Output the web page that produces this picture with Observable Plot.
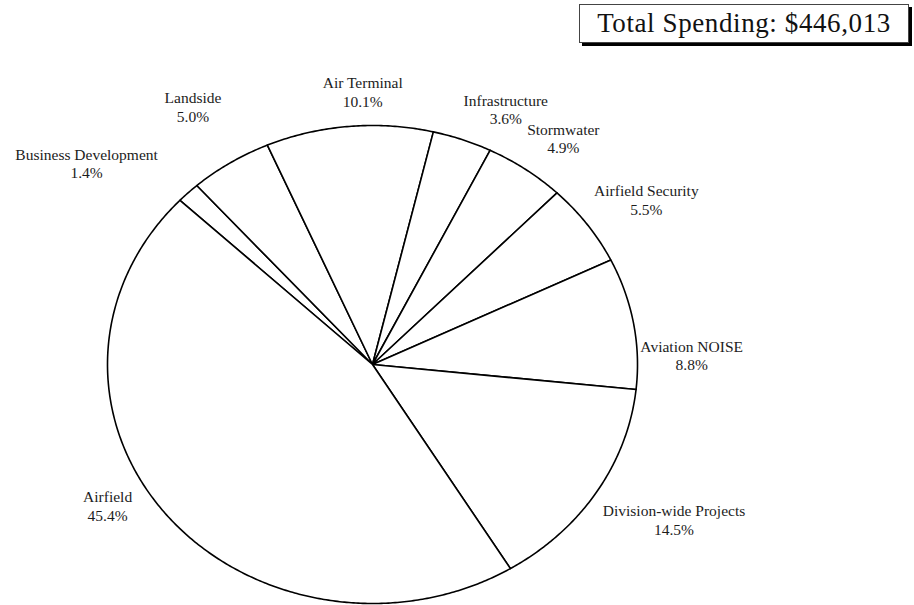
<!DOCTYPE html>
<html>
<head>
<meta charset="utf-8">
<script src="https://cdn.jsdelivr.net/npm/d3@7"></script>
<script src="https://cdn.jsdelivr.net/npm/@observablehq/plot@0.6"></script>
<style>
  html, body { margin: 0; padding: 0; background: #fff; }
  #wrap { position: relative; width: 914px; height: 605px; overflow: hidden; }
  #title {
    position: absolute; left: 579px; top: 4px; width: 328px; height: 37px;
    border: 1px solid #444; background: #fff; box-shadow: 3px 3px 0 #000;
    font-family: "Liberation Serif", "Times New Roman", serif; font-size: 27px;
    letter-spacing: 0.6px; line-height: 37px; text-align: center; color: #111;
  }
</style>
</head>
<body>
<div id="wrap">
  <div id="chart"></div>
  <div id="title"></div>
</div>
<script>
// ---- data ----
const categories = ["Business Development", "Landside", "Air Terminal", "Infrastructure", "Stormwater",
                    "Airfield Security", "Aviation NOISE", "Division-wide Projects", "Airfield"];
const shares = [1.4, 5.0, 10.1, 3.6, 4.9, 5.5, 8.8, 14.5, 45.4];
const totalSpending = 446013;

// ---- layout ----
const startDeg = -46.6;
const labelRadius = 1.15;
const labelNudge = {
  "Business Development": [-74, -4],
  "Landside": [-16, -26],
  "Air Terminal": [17, 1],
  "Infrastructure": [30, 3],
  "Stormwater": [15, -2],
  "Airfield Security": [27, -4],
  "Aviation NOISE": [19, 38],
  "Division-wide Projects": [44, 8],
  "Airfield": [-28, -32]
};

document.getElementById("title").textContent =
  "Total Spending: $" + d3.format(",")(totalSpending);

const rows = categories.map((name, i) => ({name, share: shares[i]}));
const a0 = startDeg * Math.PI / 180;
const arcs = d3.pie().sort(null).value(d => d.share).startAngle(a0).endAngle(a0 + 2 * Math.PI)(rows);

// polygon outline points for each slice (center -> arc -> center)
const slicePts = [];
for (const a of arcs) {
  const n = Math.max(2, Math.ceil((a.endAngle - a.startAngle) / (Math.PI / 360)));
  slicePts.push({name: a.data.name, x: 0, y: 0});
  for (let k = 0; k <= n; k++) {
    const t = a.startAngle + (a.endAngle - a.startAngle) * k / n;
    slicePts.push({name: a.data.name, x: Math.sin(t), y: Math.cos(t)});
  }
  slicePts.push({name: a.data.name, x: 0, y: 0});
}

const labelMarks = arcs.map(a => {
  const mid = (a.startAngle + a.endAngle) / 2;
  const [dx, dy] = labelNudge[a.data.name] || [0, 0];
  return Plot.text([a.data], {
    x: () => labelRadius * Math.sin(mid),
    y: () => labelRadius * Math.cos(mid),
    text: d => d.name + "\n" + d.share.toFixed(1) + "%",
    dx, dy,
    lineAnchor: "middle",
    lineHeight: 1.2,
    fontSize: 15.5,
    fill: "#1c1c1c",
    clip: false
  });
});

const chart = Plot.plot({
  width: 914,
  height: 605,
  marginLeft: 107,
  marginRight: 277,
  marginTop: 125,
  marginBottom: 2,
  x: {domain: [-1, 1], axis: null},
  y: {domain: [-1, 1], axis: null},
  style: {fontFamily: "'Liberation Serif', 'Times New Roman', serif", background: "white", overflow: "visible"},
  marks: [
    Plot.line(slicePts, {x: "x", y: "y", z: "name", fill: "white", stroke: "black",
                         strokeWidth: 1.6, strokeLinejoin: "round", curve: "linear"}),
    ...labelMarks
  ]
});
document.getElementById("chart").appendChild(chart);
</script>
</body>
</html>
